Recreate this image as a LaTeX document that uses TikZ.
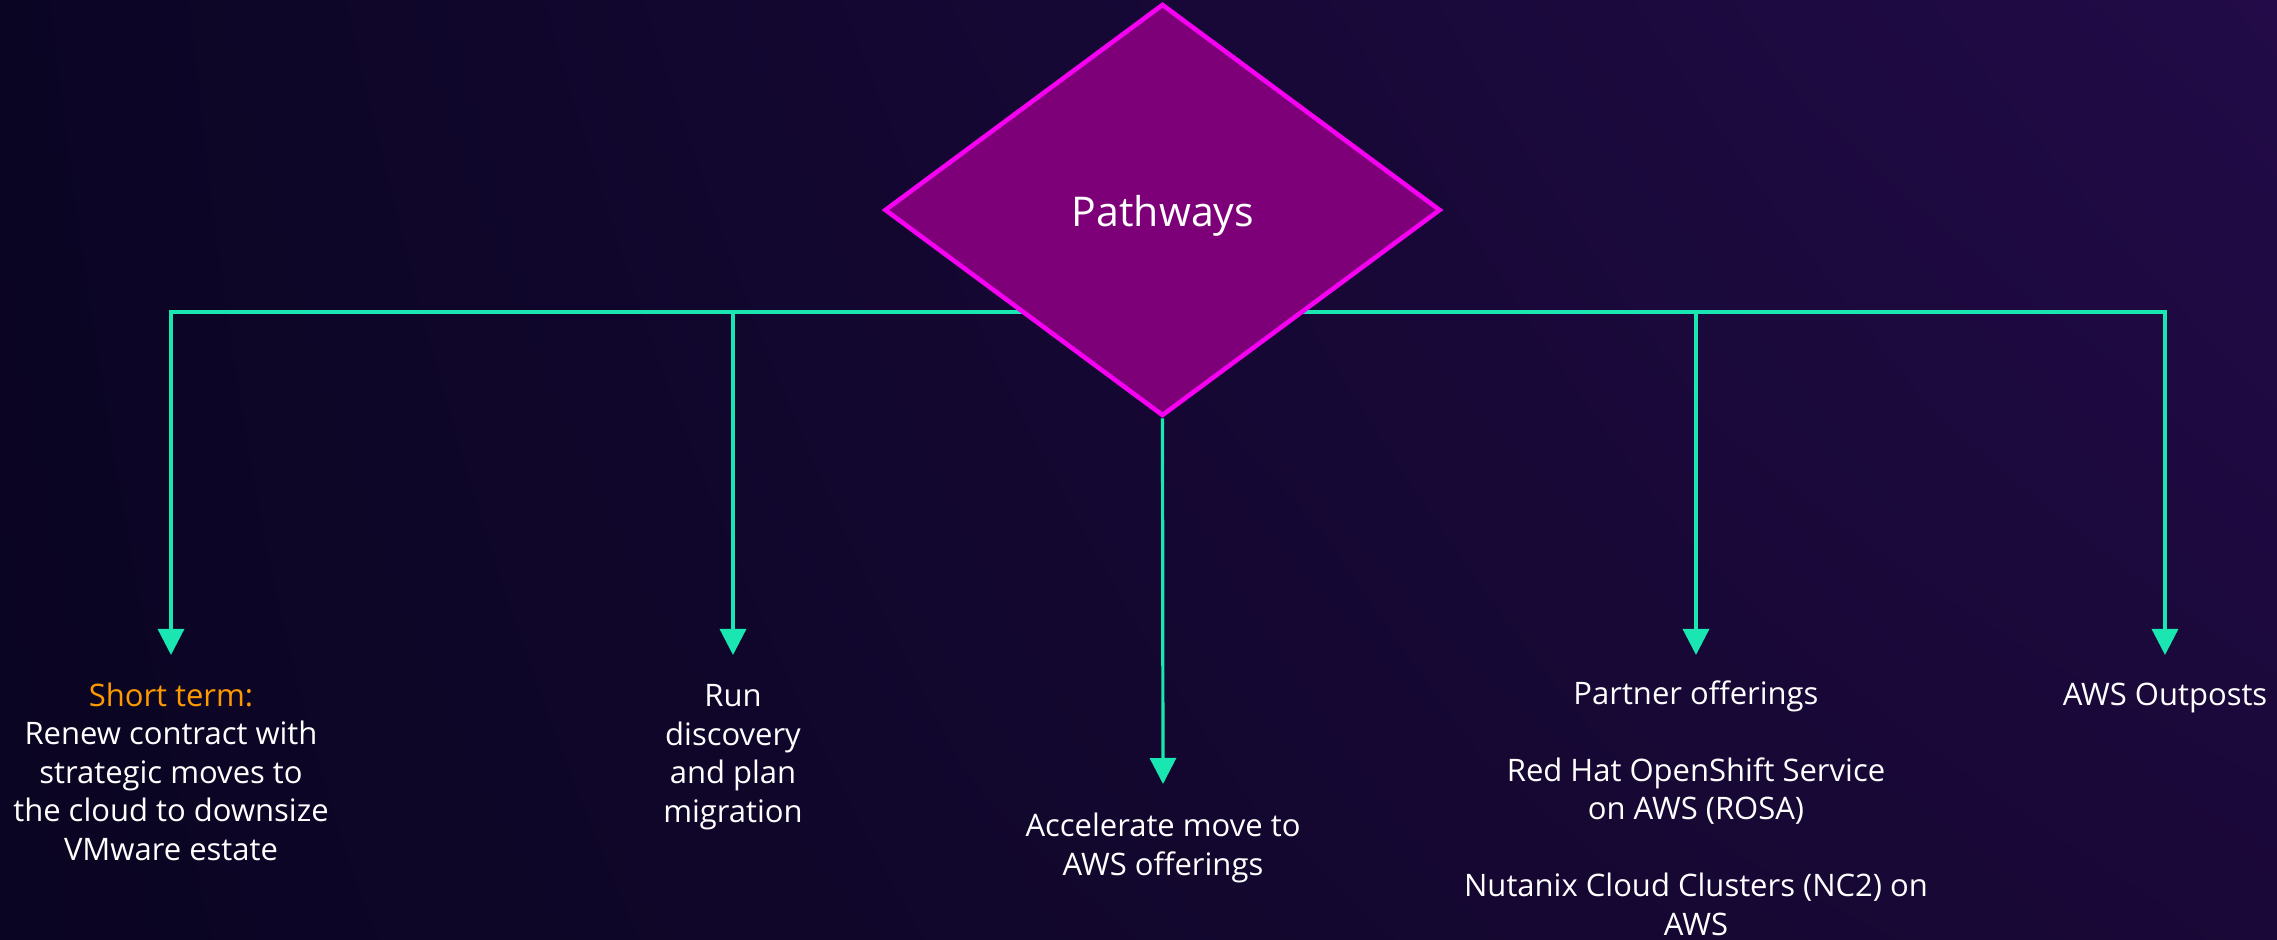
\documentclass[tikz,border=0pt]{standalone}
\usepackage{fontspec}
\setmainfont{Open Sans}
\usetikzlibrary{arrows.meta,shapes.geometric,shadings}
\definecolor{bgUL}{HTML}{0B0524}
\definecolor{bgUR}{HTML}{220B48}
\definecolor{bgLL}{HTML}{0A0522}
\definecolor{bgLR}{HTML}{1A0838}
\definecolor{teal}{HTML}{19E6B0}
\definecolor{mag}{HTML}{F500F0}
\definecolor{dpurp}{HTML}{7D0078}
\definecolor{orng}{HTML}{FF9900}
\tikzset{
  conn/.style={draw=teal, line width=1.6pt, line join=miter, -{Triangle[length=13pt,width=13pt]}},
  lbl/.style={text=white, align=center, inner sep=0pt, anchor=base,
    font=\fontsize{15.5pt}{19.25pt}\selectfont},
  dia/.style={shape=diamond, draw=mag, fill=dpurp, line width=2.3pt, inner sep=0pt,
    minimum width=278pt, minimum height=206pt},
  ptxt/.style={text=white, inner sep=0pt, font=\fontsize{20.5pt}{24pt}\selectfont}
}
\begin{document}
\begin{tikzpicture}[x=0.5pt,y=-0.5pt]
\useasboundingbox (0,0) rectangle (2277,940);
\shade[upper left=bgUL, upper right=bgUR, lower left=bgLL, lower right=bgLR] (0,0) rectangle (2277,940);

\coordinate (hl) at (171,312);
\coordinate (hr) at (2165,312);
\coordinate (b2) at (733,312);
\coordinate (b4) at (1696,312);
\coordinate (tip1) at (171,655);
\coordinate (tip2) at (733,655);
\coordinate (tip3) at (1163,784);
\coordinate (tip4) at (1696,655);
\coordinate (tip5) at (2165,655);

\draw[conn] (hr) -- (hl) -- (tip1);
\draw[conn] (hl) -- (hr) -- (tip5);
\draw[conn] (b2) -- (tip2);
\draw[conn] (b4) -- (tip4);

\node[dia] (P) at (1162.5,210) {};
\node[ptxt] (Ptext) at (1163,216) {Pathways};
\draw[conn] (P.south) -- (tip3);

% base anchor = baseline of last line
\node[lbl] (short) at (171,860) {\textcolor{orng}{Short term:}\\Renew contract with\\strategic moves to\\the cloud to downsize\\VMware estate};
\node[lbl] (run) at (733,822) {Run\\discovery\\and plan\\migration};
\node[lbl] (acc) at (1163,875) {Accelerate move to\\AWS offerings};
\node[lbl] (partner) at (1696,935) {Partner offerings\\[19.25pt]Red Hat OpenShift Service\\on AWS (ROSA)\\[19.25pt]Nutanix Cloud Clusters (NC2) on\\AWS};
\node[lbl] (out) at (2165,706) {AWS Outposts};
\end{tikzpicture}
\end{document}
